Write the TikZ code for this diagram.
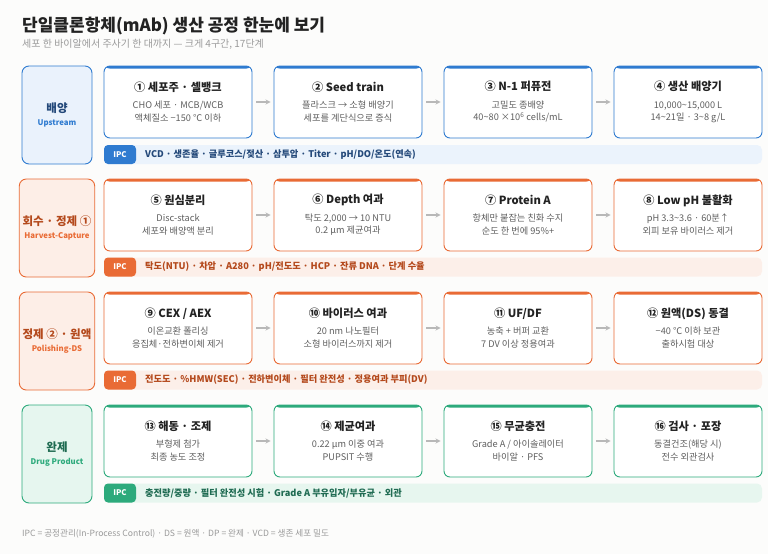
\documentclass[tikz,border=0pt]{standalone}
\usepackage{fontspec}
\setmainfont{Noto Sans CJK KR}
\usepackage{xcolor}
\usepackage{tikz}
\usetikzlibrary{arrows}

\definecolor{ink}{HTML}{222222}
\definecolor{subgray}{HTML}{5F5F5F}
\definecolor{lightgray}{HTML}{9A9A9A}
\definecolor{arrowgray}{HTML}{B8B8B8}
\definecolor{paper}{HTML}{FCFCFB}
% upstream (blue)
\definecolor{blu}{HTML}{2F7BD0}
\definecolor{bluSoft}{HTML}{EAF2FC}
\definecolor{bluBar}{HTML}{EBF3FC}
\definecolor{bluDeep}{HTML}{24497A}
% harvest / polishing (orange)
\definecolor{orng}{HTML}{E96B35}
\definecolor{orngSoft}{HTML}{FDEEE7}
\definecolor{orngBar}{HTML}{FCEFE9}
\definecolor{orngDeep}{HTML}{B4491C}
% drug product (green)
\definecolor{grn}{HTML}{2DAA7C}
\definecolor{grnSoft}{HTML}{E6F6EF}
\definecolor{grnBar}{HTML}{E7F6EF}
\definecolor{grnDeep}{HTML}{1F6B52}

\newcommand{\sttl}[1]{{\fontsize{11.2}{13}\selectfont\bfseries\color{ink}#1}}

\begin{document}
\begin{tikzpicture}[
  x=1pt, y=-1pt,
  phase/.style={
    rectangle,
    draw=#1,
    line width=0.9pt,
    fill=#1Soft,
    minimum width=70pt,
    minimum height=98pt,
    rounded corners=7pt,
    font=\fontsize{7.8}{12}\selectfont\bfseries,
    text=#1Deep,
    align=center
  },
  stepbox/.style={
    rectangle,
    draw=#1,
    line width=0.9pt,
    fill=white,
    minimum width=148pt,
    minimum height=72pt,
    rounded corners=6pt,
    font=\fontsize{9.2}{12.5}\selectfont,
    text=subgray,
    align=center,
    path picture={\fill[#1] ([yshift=1pt]path picture bounding box.north west) rectangle ([yshift=-2.6pt]path picture bounding box.north east);}
  },
  ipcbar/.style={
    rectangle,
    fill=#1Bar,
    minimum width=658pt,
    minimum height=19pt,
    rounded corners=5pt
  },
  ipctag/.style={
    rectangle,
    fill=#1,
    minimum width=32pt,
    minimum height=19pt,
    rounded corners=4pt,
    text=white,
    font=\fontsize{7.8}{9}\selectfont\bfseries
  },
  ipctext/.style={
    anchor=west,
    inner sep=0pt,
    text=#1Deep,
    font=\fontsize{9.2}{11}\selectfont\bfseries
  },
  flow/.style={
    -stealth,
    line width=1.2pt,
    draw=arrowgray,
    shorten <=4pt,
    shorten >=3pt
  }
]

\fill[paper] (0,0) rectangle (768,554);
\useasboundingbox (0,0) rectangle (768,554);

% Heading
\node[anchor=base west, inner sep=0pt, text=ink, font=\fontsize{17}{20}\selectfont\bfseries] (title) at (22,31) {단일클론항체(mAb) 생산 공정 한눈에 보기};
\node[anchor=base west, inner sep=0pt, text=lightgray, font=\fontsize{10}{12}\selectfont] (subtitle) at (22,47.5) {세포 한 바이알에서 주사기 한 대까지 — 크게 4구간, 17단계};

% Upstream
\node[phase=blu] (ph1) at (57,115) {{\fontsize{11.5}{13}\selectfont 배양}\\[1pt]{\color{blu}Upstream}};
\node[stepbox=blu] (s1) at (178,102) {\sttl{① 세포주 · 셀뱅크}\\[5pt]CHO 세포 · MCB/WCB\\액체질소 −150 ℃ 이하};
\node[stepbox=blu] (s2) at (348,102) {\sttl{② Seed train}\\[5pt]플라스크 → 소형 배양기\\세포를 계단식으로 증식};
\node[stepbox=blu] (s3) at (518,102) {\sttl{③ N-1 퍼퓨전}\\[5pt]고밀도 종배양\\40\textasciitilde 80 ×10\textsuperscript{6} cells/mL};
\node[stepbox=blu] (s4) at (688,102) {\sttl{④ 생산 배양기}\\[5pt]10,000\textasciitilde 15,000 L\\14\textasciitilde 21일 · 3\textasciitilde 8 g/L};
\node[ipcbar=blu] (ipc1) at (433,154.5) {};
\node[ipctag=blu] (tag1) at (120,154.5) {IPC};
\node[ipctext=blu] (txt1) at (145,154.5) {VCD · 생존율 · 글루코스/젖산 · 삼투압 · Titer · pH/DO/온도(연속)};

\draw[flow] (s1.east) -- (s2.west);
\draw[flow] (s2.east) -- (s3.west);
\draw[flow] (s3.east) -- (s4.west);

% Harvest - capture
\node[phase=orng] (ph2) at (57,228) {{\fontsize{11.5}{13}\selectfont 회수 · 정제 ①}\\[1pt]{\color{orng}Harvest-Capture}};
\node[stepbox=orng] (s5) at (178,215) {\sttl{⑤ 원심분리}\\[5pt]Disc-stack\\세포와 배양액 분리};
\node[stepbox=orng] (s6) at (348,215) {\sttl{⑥ Depth 여과}\\[5pt]탁도 2,000 → 10 NTU\\0.2 µm 제균여과};
\node[stepbox=orng] (s7) at (518,215) {\sttl{⑦ Protein A}\\[5pt]항체만 붙잡는 친화 수지\\순도 한 번에 95\%+};
\node[stepbox=orng] (s8) at (688,215) {\sttl{⑧ Low pH 불활화}\\[5pt]pH 3.3\textasciitilde 3.6 · 60분↑\\외피 보유 바이러스 제거};
\node[ipcbar=orng] (ipc2) at (433,267) {};
\node[ipctag=orng] (tag2) at (120,267) {IPC};
\node[ipctext=orng] (txt2) at (145,267) {탁도(NTU) · 차압 · A280 · pH/전도도 · HCP · 잔류 DNA · 단계 수율};

\draw[flow] (s5.east) -- (s6.west);
\draw[flow] (s6.east) -- (s7.west);
\draw[flow] (s7.east) -- (s8.west);

% Polishing - drug substance
\node[phase=orng] (ph3) at (57,341) {{\fontsize{11.5}{13}\selectfont 정제 ② · 원액}\\[1pt]{\color{orng}Polishing-DS}};
\node[stepbox=orng] (s9) at (178,328) {\sttl{⑨ CEX / AEX}\\[5pt]이온교환 폴리싱\\응집체·전하변이체 제거};
\node[stepbox=orng] (s10) at (348,328) {\sttl{⑩ 바이러스 여과}\\[5pt]20 nm 나노필터\\소형 바이러스까지 제거};
\node[stepbox=orng] (s11) at (518,328) {\sttl{⑪ UF/DF}\\[5pt]농축 + 버퍼 교환\\7 DV 이상 정용여과};
\node[stepbox=orng] (s12) at (688,328) {\sttl{⑫ 원액(DS) 동결}\\[5pt]−40 ℃ 이하 보관\\출하시험 대상};
\node[ipcbar=orng] (ipc3) at (433,380) {};
\node[ipctag=orng] (tag3) at (120,380) {IPC};
\node[ipctext=orng] (txt3) at (145,380) {전도도 · \%HMW(SEC) · 전하변이체 · 필터 완전성 · 정용여과 부피(DV)};

\draw[flow] (s9.east) -- (s10.west);
\draw[flow] (s10.east) -- (s11.west);
\draw[flow] (s11.east) -- (s12.west);

% Drug product
\node[phase=grn] (ph4) at (57,454) {{\fontsize{11.5}{13}\selectfont 완제}\\[1pt]{\color{grn}Drug Product}};
\node[stepbox=grn] (s13) at (178,441) {\sttl{⑬ 해동 · 조제}\\[5pt]부형제 첨가\\최종 농도 조정};
\node[stepbox=grn] (s14) at (348,441) {\sttl{⑭ 제균여과}\\[5pt]0.22 µm 이중 여과\\PUPSIT 수행};
\node[stepbox=grn] (s15) at (518,441) {\sttl{⑮ 무균충전}\\[5pt]Grade A / 아이솔레이터\\바이알 · PFS};
\node[stepbox=grn] (s16) at (688,441) {\sttl{⑯ 검사 · 포장}\\[5pt]동결건조(해당 시)\\전수 외관검사};
\node[ipcbar=grn] (ipc4) at (433,493) {};
\node[ipctag=grn] (tag4) at (120,493) {IPC};
\node[ipctext=grn] (txt4) at (145,493) {충전량/중량 · 필터 완전성 시험 · Grade A 부유입자/부유균 · 외관};

\draw[flow] (s13.east) -- (s14.west);
\draw[flow] (s14.east) -- (s15.west);
\draw[flow] (s15.east) -- (s16.west);

% Footnote
\node[anchor=base west, inner sep=0pt, text=lightgray, font=\fontsize{8.6}{10}\selectfont] (legend) at (22,536) {IPC = 공정관리(In-Process Control) · DS = 원액 · DP = 완제 · VCD = 생존 세포 밀도};

\end{tikzpicture}
\end{document}
